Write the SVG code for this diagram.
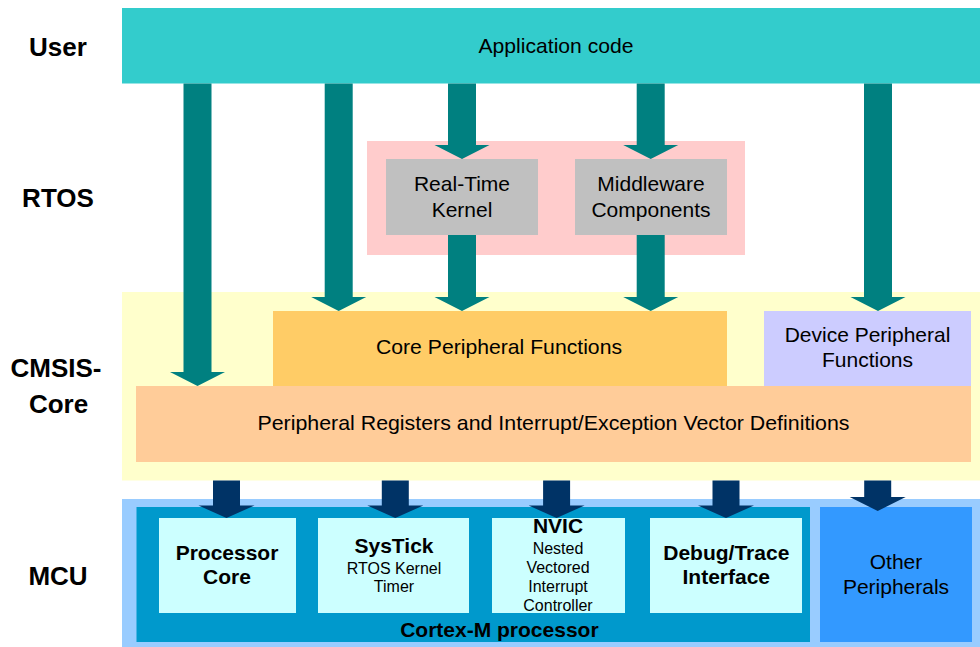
<svg xmlns="http://www.w3.org/2000/svg" width="980" height="647" viewBox="0 0 980 647">
<style>
text{font-family:"Liberation Sans",Arial,Helvetica,sans-serif;fill:#000;text-anchor:middle}
.lbl{font-size:26px;font-weight:bold}
.t{font-size:21px}
.b{font-size:21px;font-weight:bold}
.s{font-size:16px}
.teal{fill:#008080}
.navy{fill:#003366}
</style>
<rect width="980" height="647" fill="#fff"/>
<g id="layer-labels">
<text class="lbl" x="58" y="55.7">User</text>
<text class="lbl" x="58" y="206.7">RTOS</text>
<text class="lbl" x="56" y="377.3">CMSIS-</text>
<text class="lbl" x="58.5" y="413.3">Core</text>
<text class="lbl" x="58" y="585.3">MCU</text>
</g>
<g id="application">
<rect x="122" y="8" width="858" height="75.5" fill="#33CCCC"/>
<text class="t" x="556" y="52.7" textLength="155" lengthAdjust="spacingAndGlyphs">Application code</text>
</g>
<g id="rtos">
<rect x="367" y="141" width="378" height="114" fill="#FFCCCC"/>
</g>
<g id="cmsis">
<rect x="122" y="292" width="858" height="188.5" fill="#FFFFCC"/>
</g>
<g id="mcu">
<rect x="122" y="499" width="858" height="148" fill="#99CCFF"/>
</g>
<g id="kernel">
<rect x="386" y="159" width="152" height="76" fill="#C0C0C0"/>
<text class="t" x="462" y="191">Real-Time</text>
<text class="t" x="462" y="216.7">Kernel</text>
</g>
<g id="middleware">
<rect x="575" y="159" width="152" height="76" fill="#C0C0C0"/>
<text class="t" x="651" y="191">Middleware</text>
<text class="t" x="651" y="216.7">Components</text>
</g>
<g id="core-peripheral">
<rect x="273" y="311" width="454" height="76" fill="#FFCC66"/>
<text class="t" x="499" y="354" textLength="246" lengthAdjust="spacingAndGlyphs">Core Peripheral Functions</text>
</g>
<g id="device-peripheral">
<rect x="764" y="311" width="207" height="76" fill="#CCCCFF"/>
<text class="t" x="867.5" y="341.7">Device Peripheral</text>
<text class="t" x="867.5" y="366.7">Functions</text>
</g>
<g id="registers">
<rect x="136" y="386" width="835" height="76" fill="#FFCC99"/>
<text class="t" x="553.5" y="430" textLength="592" lengthAdjust="spacingAndGlyphs">Peripheral Registers and Interrupt/Exception Vector Definitions</text>
</g>
<g id="cortex-m">
<rect x="136.5" y="507" width="673.5" height="135" fill="#0099CC"/>
<text class="b" x="499.4" y="636.7">Cortex-M processor</text>
</g>
<g id="other-peripherals">
<rect x="820" y="507" width="152" height="135" fill="#3399FF"/>
<text class="t" x="896" y="569.3">Other</text>
<text class="t" x="896" y="594">Peripherals</text>
</g>
<g id="processor-core">
<rect x="159" y="518" width="137" height="95" fill="#CCFFFF"/>
<text class="b" x="227" y="560">Processor</text>
<text class="b" x="227" y="584">Core</text>
</g>
<g id="systick">
<rect x="318" y="518" width="151" height="95" fill="#CCFFFF"/>
<text class="b" x="394" y="553.3">SysTick</text>
<text class="s" x="394" y="574">RTOS Kernel</text>
<text class="s" x="394" y="592.3">Timer</text>
</g>
<g id="nvic">
<rect x="492" y="518" width="133" height="95" fill="#CCFFFF"/>
<text class="b" x="558" y="533.3">NVIC</text>
<text class="s" x="558" y="554.3">Nested</text>
<text class="s" x="558" y="573.3">Vectored</text>
<text class="s" x="558" y="592.3">Interrupt</text>
<text class="s" x="558" y="611">Controller</text>
</g>
<g id="debug-trace">
<rect x="650" y="518" width="152" height="95" fill="#CCFFFF"/>
<text class="b" x="726.3" y="560">Debug/Trace</text>
<text class="b" x="726.3" y="584">Interface</text>
</g>
<g id="connectors">
<polygon class="teal" points="183.5,83.5 211.5,83.5 211.5,372 225,372 197.5,386 170,372 183.5,372"/>
<polygon class="teal" points="324.7,83.5 352.7,83.5 352.7,297 366.2,297 338.7,311 311.2,297 324.7,297"/>
<polygon class="teal" points="448,83.5 476,83.5 476,145 489.5,145 462,159 434.5,145 448,145"/>
<polygon class="teal" points="448,235 476,235 476,297 489.5,297 462,311 434.5,297 448,297"/>
<polygon class="teal" points="636.7,83.5 664.7,83.5 664.7,145 678.2,145 650.7,159 623.2,145 636.7,145"/>
<polygon class="teal" points="636.7,235 664.7,235 664.7,297 678.2,297 650.7,311 623.2,297 636.7,297"/>
<polygon class="teal" points="864,83.5 892,83.5 892,297 905.5,297 878,311 850.5,297 864,297"/>
<polygon class="navy" points="213,480.5 240,480.5 240,505.5 254.5,505.5 226.5,518 198.5,505.5 213,505.5"/>
<polygon class="navy" points="381.8,480.5 408.8,480.5 408.8,505.5 423.3,505.5 395.3,518 367.3,505.5 381.8,505.5"/>
<polygon class="navy" points="543.1,480.5 570.1,480.5 570.1,505.5 584.6,505.5 556.6,518 528.6,505.5 543.1,505.5"/>
<polygon class="navy" points="712.5,480.5 739.5,480.5 739.5,505.5 754,505.5 726,518 698,505.5 712.5,505.5"/>
<polygon class="navy" points="864.2,480.5 891.2,480.5 891.2,497 905.7,497 877.7,511 849.7,497 864.2,497"/>
</g>
</svg>
